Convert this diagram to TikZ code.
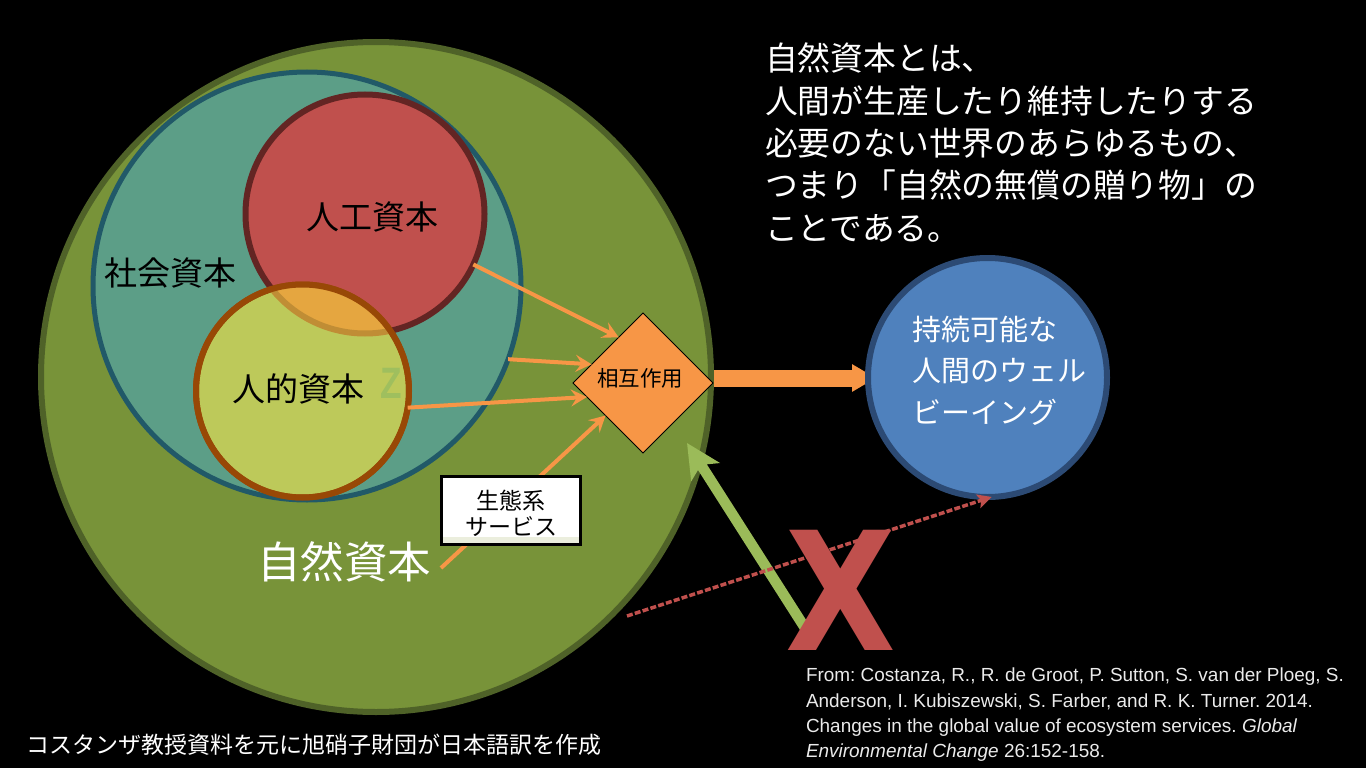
\documentclass[tikz,border=0pt]{standalone}
\usepackage{fontspec}
\setmainfont{Noto Sans CJK JP}
\newfontfamily\latinfont{Liberation Sans}
\newfontfamily\heavyfont{DejaVu Sans}
\usetikzlibrary{shapes.geometric,arrows.meta,calc}
\definecolor{natfill}{HTML}{789339}
\definecolor{natline}{HTML}{4F6228}
\definecolor{socfill}{HTML}{5C9E87}
\definecolor{socline}{HTML}{215968}
\definecolor{redfill}{HTML}{C0504D}
\definecolor{redline}{HTML}{632523}
\definecolor{humfill}{HTML}{BDC95A}
\definecolor{humline}{HTML}{984806}
\definecolor{overlapfill}{HTML}{E5A640}
\definecolor{overlapline}{HTML}{C08D35}
\definecolor{bluefill}{HTML}{4F81BD}
\definecolor{blueline}{HTML}{2C4A74}
\definecolor{orangec}{HTML}{F79646}
\definecolor{greenc}{HTML}{9BBB59}
\definecolor{zc}{HTML}{9FBF5E}
\definecolor{boxedge}{HTML}{EBEEDD}
\tikzset{
  ring/.style={circle,inner sep=0pt,outer sep=0pt,line width=#1},
  jp/.style={inner sep=0pt,outer sep=0pt,font=\fontsize{#1}{#1}\selectfont},
  multiline/.style={inner sep=0pt,outer sep=0pt,align=left,text=white},
  orangearrow/.style={draw=orangec,line width=4pt,-{Stealth[length=16pt,width=17pt,inset=6pt]}},
}
\begin{document}
\begin{tikzpicture}[x=1pt,y=-1pt]
\useasboundingbox (0,0) rectangle (1366,768);
\fill[black] (0,0) rectangle (1366,768);
% circles
\node[ring=6pt,draw=natline,fill=natfill,minimum size=670pt] (nat) at (376,377) {};
\node[ring=5pt,draw=socline,fill=socfill,minimum size=428pt] (soc) at (307,286) {};
\node[ring=6pt,draw=redline,fill=redfill,minimum size=239pt] (red) at (365,214) {};
\node[ring=6pt,draw=humline,fill=humfill,minimum size=213pt] (hum) at (302.5,391) {};
\begin{scope}
  \clip (302.5,391) circle[radius=106.5pt];
  \fill[overlapfill] (365,214) circle[radius=119.5pt];
  \draw[overlapline,line width=6pt] (365,214) circle[radius=119.5pt];
\end{scope}
\draw[humline,line width=6pt] (302.5,391) circle[radius=106.5pt];
\path node[ring=0pt,minimum size=239pt] (blue) at (987.5,377.5) {};
% diamond
\node[diamond,draw=black,line width=1pt,fill=orangec,inner sep=0pt,outer sep=0pt,minimum width=140pt,minimum height=140pt,aspect=1] (diam) at (643,383) {};
\node[jp=21.5,text=black] (diamlabel) at (640,378) {相互作用};
% free ends
\coordinate (svcstart) at (441,568);
\coordinate (greenstart) at (805,628);
\coordinate (greentip) at (687,443);
\coordinate (deadstart) at (627,616);
% orange connectors
\draw[orangearrow] (red.-25) -- (diam.118.5);
\draw[orangearrow] (soc.-20) -- (diam.160);
\draw[orangearrow] (hum.-9) -- (diam.194.5);
\draw[orangearrow] (svcstart) -- (diam.221.6);
% service box
\node[draw=black,line width=3pt,fill=white,minimum width=139pt,minimum height=68pt,inner sep=0pt,outer sep=0pt,
  path picture={\fill[boxedge] (path picture bounding box.south west) rectangle ([yshift=7pt]path picture bounding box.south east);}] (svc) at (510.5,510) {};
\node[multiline,align=center,text=black,font=\fontsize{23}{26}\selectfont] (svclabel) at (511,513) {生態系\\サービス};
% main arrow, head tucked under the blue circle
\draw[draw=orangec,line width=17pt,-{Stealth[length=24pt,width=26pt,inset=0pt]}] ($(diam.east)+(1,-5)$) -- ($(blue.west |- 0,378)+(8,0)$);
\draw[line width=6pt,draw=blueline,fill=bluefill] (blue.center) circle[radius=119.5pt];
% green arrow + red dashed
\draw[draw=greenc,line width=10.5pt,-{Stealth[length=34pt,width=33pt,inset=8pt]}] (greenstart) -- (greentip);
\draw[draw=redfill,line width=3.5pt,dash pattern=on 6pt off 2.2pt,-{Stealth[length=14pt,width=14pt,inset=3pt]}] (deadstart) -- (blue.-88);
\node[inner sep=0pt,text=redfill,xscale=0.87,text height=120pt,text depth=0pt,font=\heavyfont\fontsize{165}{165}\selectfont\bfseries] (xmark) at (841,590) {X};
% labels
\node[jp=33,text=black] (l1) at (372,217) {人工資本};
\node[jp=33,text=black] (l2) at (170.5,273) {社会資本};
\node[jp=33,text=black] (l3) at (298,389) {人的資本};
\node[jp=43.5,text=white] (l4) at (344,562) {自然資本};
\node[inner sep=0pt,text=zc,xscale=0.8,font=\latinfont\fontsize{44}{44}\selectfont\bfseries] (zmark) at (391.5,383) {Z};
\node[multiline,anchor=north west,font=\fontsize{29}{41.5}\selectfont] (l5) at (912,316) {持続可能な\\人間のウェル\\ビーイング};
\node[multiline,anchor=north west,font=\fontsize{32.8}{42.3}\selectfont] (title) at (765,43) {自然資本とは、\\人間が生産したり維持したりする\\必要のない世界のあらゆるもの、\\つまり「自然の無償の贈り物」の\\ことである。};
\node[jp=23,anchor=west,text=white] (note) at (27,745) {コスタンザ教授資料を元に旭硝子財団が日本語訳を作成};
\node[multiline,anchor=north west,text=white!92!black,font=\latinfont\fontsize{18.95}{25.3}\selectfont\frenchspacing] (cite) at (806,668) {From: Costanza, R., R. de Groot, P. Sutton, S. van der Ploeg, S.\\Anderson, I. Kubiszewski, S. Farber, and R. K. Turner. 2014.\\Changes in the global value of ecosystem services. \textit{Global}\\\textit{Environmental Change} 26:152-158.};
\end{tikzpicture}
\end{document}
